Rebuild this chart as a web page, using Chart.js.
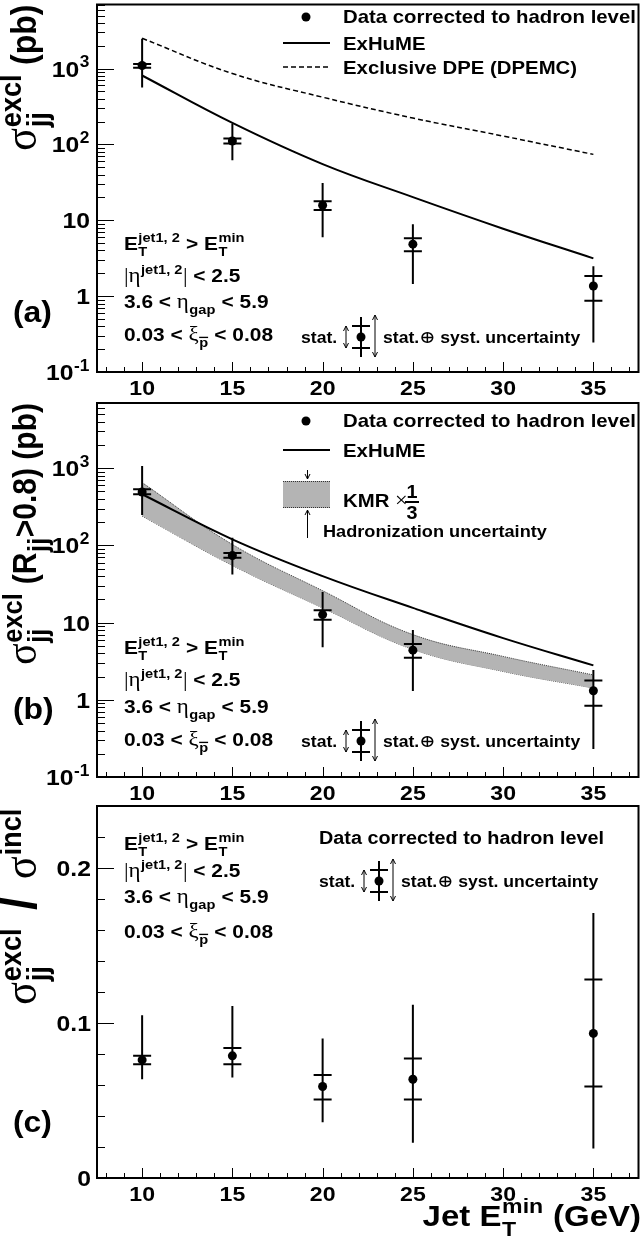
<!DOCTYPE html>
<html>
<head>
<meta charset="utf-8">
<script src="https://cdn.jsdelivr.net/npm/chart.js@4.4.0/dist/chart.umd.min.js"></script>
<style>
html, body { margin: 0; padding: 0; background: #fff; }
#wrap { position: relative; width: 643px; height: 1249px; }
canvas { position: absolute; left: 0; top: 0; }
</style>
</head>
<body>
<div id="wrap">
<canvas id="pa" width="643" height="1249"></canvas>
<canvas id="pb" width="643" height="1249"></canvas>
<canvas id="pc" width="643" height="1249"></canvas>
</div>
<script>
// jet E_T min thresholds (GeV)
const etMin = [10, 15, 20, 25, 35]
const curveEt = [10, 15, 20, 25, 30, 35]
const xTicks = [10, 15, 20, 25, 30, 35]

// (a) sigma_jj excl (pb)
const aXsec = [1100, 111, 15.8, 4.85, 1.36]
const aStatUp = [1150, 120, 17.8, 5.8, 1.84]
const aStatDn = [1030, 103, 13.7, 3.9, 0.87]
const aTotUp = [2480, 188, 31, 8.9, 2.48]
const aTotDn = [565, 62, 6, 1.45, 0.244]
const aExhume = [811, 192, 55, 20.2, 7.75, 3.15]
const aDpemc = [2510, 861, 420, 223, 129, 74]

// (b) sigma_jj excl (R_jj > 0.8) (pb)
const bXsec = [492, 74, 12.7, 4.4, 1.31]
const bStatUp = [533, 80, 14.5, 5.3, 1.78]
const bStatDn = [460, 69, 10.9, 3.5, 0.84]
const bTotUp = [1070, 126, 25, 8.0, 2.43]
const bTotDn = [248, 42, 4.8, 1.3, 0.23]
const bExhume = [460, 120, 40, 15.5, 6.3, 2.79]
const kmrHi = [652, 103, 25.9, 7.0, 3.65, 2.1]
const kmrLo = [240, 55, 15.5, 4.5, 2.33, 1.42]

// (c) sigma excl / sigma incl
const cRatio = [0.0762, 0.0788, 0.059, 0.0637, 0.0933]
const cStatUp = [0.0788, 0.0838, 0.0665, 0.0771, 0.128]
const cStatDn = [0.0734, 0.0734, 0.0507, 0.0507, 0.059]
const cTotUp = [0.105, 0.111, 0.090, 0.1117, 0.171]
const cTotDn = [0.0637, 0.0648, 0.036, 0.0227, 0.019]

// y tick labels
const logTicks = [0.1, 1, 10, 100, 1000]
const logTickText = [['10', '-1'], ['1', ''], ['10', ''], ['10', '2'], ['10', '3']]
const ratioTicks = [0, 0.1, 0.2]
const ratioTickText = ['0', '0.1', '0.2']

const FAM = '"Liberation Sans", Arial, sans-serif'
const GFAM = '"Liberation Serif", "DejaVu Serif", serif'
const SX = 1.1   // the reference text is a bit wider than Arial

const F = s => `bold ${s}px ${FAM}`
const G = s => `${s}px ${GFAM}`

function baseFont(p, s) {
    const z = p.z || 1
    return p.g ? G(s * 1.1 * z) : F(s * z)
}

function partW(ctx, p, s, k) {
    if (typeof p === 'string') { ctx.font = F(s); return ctx.measureText(p).width }
    let w = 0
    if (p.t) { ctx.font = baseFont(p, s); w = ctx.measureText(p.t).width }
    ctx.font = F(s * k)
    const ws = Math.max(p.sub ? ctx.measureText(p.sub).width : 0, p.sup ? ctx.measureText(p.sup).width : 0)
    return w + ws + (ws ? s * 0.04 : 0)
}

function drawPart(ctx, p, x, y, s, k) {
    if (typeof p === 'string') { ctx.font = F(s); ctx.fillText(p, x, y); return }
    let w = 0
    if (p.t) { ctx.font = baseFont(p, s); ctx.fillText(p.t, x, y); w = ctx.measureText(p.t).width }
    ctx.font = F(s * k)
    const sx = x + w + s * 0.02
    if (p.sup) ctx.fillText(p.sup, sx, y - s * 0.42)
    if (p.sub) {
        ctx.fillText(p.sub, sx, y + s * 0.33)
        if (p.bar) {
            const bw = ctx.measureText(p.sub).width
            ctx.fillRect(sx, y + s * 0.33 - s * k * 0.62 - s * 0.12, bw, Math.max(1, s * 0.07))
        }
    }
}

// rich text: parts are strings or {t, g, z, sub, sup, bar}
function rich(ctx, parts, x, y, s, align, rot, k) {
    k = k || 0.7
    ctx.save()
    ctx.translate(x, y)
    if (rot) { ctx.rotate(-Math.PI / 2); ctx.scale(1, SX) } else ctx.scale(SX, 1)
    ctx.fillStyle = '#000'
    ctx.textAlign = 'left'
    ctx.textBaseline = 'alphabetic'
    const ws = parts.map(p => partW(ctx, p, s, k))
    const w = ws.reduce((a, b) => a + b, 0)
    let cx = align === 'right' ? -w : align === 'center' ? -w / 2 : 0
    parts.forEach((p, i) => { drawPart(ctx, p, cx, 0, s, k); cx += ws[i] })
    ctx.restore()
}

function frameAndXAxis(chart) {
    const { ctx, chartArea: a, scales: { x } } = chart
    ctx.save()
    ctx.strokeStyle = '#000'
    ctx.lineWidth = 1
    ctx.beginPath()
    for (let v = 8; v <= 37; v++) {
        const px = Math.round(x.getPixelForValue(v)) + 0.5
        ctx.moveTo(px, a.bottom)
        ctx.lineTo(px, a.bottom - (v % 5 === 0 ? 10 : 5))
    }
    ctx.stroke()
    ctx.lineWidth = 2
    ctx.strokeRect(a.left, a.top, a.right - a.left, a.bottom - a.top)
    ctx.restore()
    xTicks.forEach(v => rich(ctx, [String(v)], x.getPixelForValue(v), a.bottom + 23, 21, 'center'))
}

function logYAxis(chart) {
    const { ctx, chartArea: a, scales: { y } } = chart
    ctx.save()
    ctx.strokeStyle = '#000'
    ctx.lineWidth = 1
    ctx.beginPath()
    for (let d = 0.1; d <= 1000; d *= 10) {
        for (let k = 1; k <= 9; k++) {
            const v = d * k
            if (v > y.max) continue
            const py = Math.round(y.getPixelForValue(v)) + 0.5
            ctx.moveTo(a.left, py)
            ctx.lineTo(a.left + (k === 1 ? 17 : 8), py)
        }
    }
    ctx.stroke()
    ctx.restore()
    logTicks.forEach((v, i) => {
        const t = logTickText[i]
        const parts = t[1] ? [t[0], { sup: t[1] }] : [t[0]]
        rich(ctx, parts, a.left - 7, y.getPixelForValue(v) + 8, 22.5, 'right')
    })
}

function ratioYAxis(chart) {
    const { ctx, chartArea: a, scales: { y } } = chart
    ctx.save()
    ctx.strokeStyle = '#000'
    ctx.lineWidth = 1
    ctx.beginPath()
    for (let k = 0; k <= 11; k++) {
        const v = k * 0.02
        const py = Math.round(y.getPixelForValue(v)) + 0.5
        ctx.moveTo(a.left, py)
        ctx.lineTo(a.left + (k % 5 === 0 ? 17 : 8), py)
    }
    ctx.stroke()
    ctx.restore()
    ratioTicks.forEach((v, i) => rich(ctx, [ratioTickText[i]], a.left - 6, y.getPixelForValue(v) + 8, 22.5, 'right'))
}

function errorBars(chart, sUp, sDn, tUp, tDn) {
    const { ctx, scales: { x, y } } = chart
    ctx.save()
    ctx.strokeStyle = '#000'
    ctx.lineWidth = 2
    ctx.beginPath()
    etMin.forEach((e, i) => {
        const px = x.getPixelForValue(e)
        ctx.moveTo(px, y.getPixelForValue(tDn[i]))
        ctx.lineTo(px, y.getPixelForValue(tUp[i]))
        for (const v of [sUp[i], sDn[i]]) {
            const py = y.getPixelForValue(v)
            ctx.moveTo(px - 9, py)
            ctx.lineTo(px + 9, py)
        }
    })
    ctx.stroke()
    ctx.restore()
}

const cutLines = [
    [{ t: 'E', sub: 'T', sup: 'jet1, 2' }, ' > ', { t: 'E', sub: 'T', sup: 'min' }],
    [{ t: '|', g: true }, { t: 'η', g: true, sup: 'jet1, 2' }, { t: '|', g: true }, ' < 2.5'],
    ['3.6 < ', { t: 'η', g: true, sub: 'gap' }, ' < 5.9'],
    ['0.03 < ', { t: 'ξ', g: true, sub: 'p', bar: true }, ' < 0.08']
]

function cuts(ctx, ys) {
    cutLines.forEach((l, i) => rich(ctx, l, 124, ys[i], 19))
}

function dblArrow(ctx, x, y1, y2) {
    ctx.beginPath()
    ctx.moveTo(x, y1); ctx.lineTo(x, y2)
    ctx.moveTo(x - 2.5, y1 + 5); ctx.lineTo(x, y1); ctx.lineTo(x + 2.5, y1 + 5)
    ctx.moveTo(x - 2.5, y2 - 5); ctx.lineTo(x, y2); ctx.lineTo(x + 2.5, y2 - 5)
    ctx.stroke()
}

function statKey(ctx, x0, yc, gap) {
    rich(ctx, ['stat.'], x0, yc + 6, 16)
    const xs = x0 + 60
    ctx.save()
    ctx.strokeStyle = '#000'
    ctx.fillStyle = '#000'
    ctx.lineWidth = 2
    ctx.beginPath()
    ctx.moveTo(xs, yc - 20); ctx.lineTo(xs, yc + 20)
    ctx.moveTo(xs - 9, yc - 11); ctx.lineTo(xs + 9, yc - 11)
    ctx.moveTo(xs - 9, yc + 11); ctx.lineTo(xs + 9, yc + 11)
    ctx.stroke()
    ctx.beginPath(); ctx.arc(xs, yc, 4.5, 0, 2 * Math.PI); ctx.fill()
    ctx.lineWidth = 1
    dblArrow(ctx, xs - 15, yc - 11, yc + 11)
    dblArrow(ctx, xs + 14, yc - 22, yc + 20)
    ctx.restore()
    rich(ctx, ['stat.', { t: '⊕', g: true }, ' syst. uncertainty'], xs + gap, yc + 6, 16)
}

function dataKey(ctx, y) {
    ctx.save()
    ctx.fillStyle = '#000'
    ctx.beginPath(); ctx.arc(306, y - 6, 4.5, 0, 2 * Math.PI); ctx.fill()
    ctx.restore()
    rich(ctx, ['Data corrected to hadron level'], 343, y, 18.5)
}

function lineKey(ctx, y, text, dash) {
    ctx.save()
    ctx.strokeStyle = '#000'
    ctx.lineWidth = dash ? 1.5 : 2
    ctx.setLineDash(dash || [])
    ctx.beginPath(); ctx.moveTo(283, y - 7); ctx.lineTo(330, y - 7); ctx.stroke()
    ctx.restore()
    rich(ctx, [text], 343, y, 18.5)
}

const sigmaJJ = { t: 'σ', g: true, z: 1.2, sub: 'jj', sup: 'excl' }
const TK = 0.85

function chartOpts(padTop, padBottom, yScale) {
    return {
        responsive: false,
        animation: false,
        devicePixelRatio: 1,
        events: [],
        layout: { padding: { left: 97, right: 2, top: padTop, bottom: padBottom } },
        plugins: { legend: { display: false }, tooltip: { enabled: false } },
        scales: {
            x: { type: 'linear', min: 7.5, max: 37.5, display: false },
            y: Object.assign({ display: false }, yScale)
        }
    }
}

const pts = vals => ({
    data: etMin.map((e, i) => ({ x: e, y: vals[i] })),
    showLine: false,
    pointRadius: 4.5,
    pointBorderWidth: 0,
    pointBackgroundColor: '#000'
})

const curve = (vals, extra) => Object.assign({
    data: curveEt.map((e, i) => ({ x: e, y: vals[i] })),
    borderColor: '#000',
    borderWidth: 2,
    pointRadius: 0,
    fill: false,
    tension: 0.4
}, extra)

// panel (a)
new Chart(document.getElementById('pa'), {
    type: 'line',
    data: {
        datasets: [
            pts(aXsec),
            curve(aExhume),
            curve(aDpemc, { borderWidth: 1.5, borderDash: [5, 3] })
        ]
    },
    options: chartOpts(1, 1249 - 372, { type: 'logarithmic', min: 0.1, max: 7000 }),
    plugins: [{
        id: 'panelA',
        afterDatasetsDraw(chart) { errorBars(chart, aStatUp, aStatDn, aTotUp, aTotDn) },
        afterDraw(chart) {
            const ctx = chart.ctx
            frameAndXAxis(chart)
            logYAxis(chart)
            rich(ctx, [sigmaJJ, ' (pb)'], 36, chart.chartArea.top, 32, 'right', true, TK)
            rich(ctx, ['(a)'], 13, 322, 29)
            dataKey(ctx, 23)
            lineKey(ctx, 50, 'ExHuME')
            lineKey(ctx, 74, 'Exclusive DPE (DPEMC)', [5, 3])
            cuts(ctx, [250, 282, 308, 341])
            statKey(ctx, 301, 337, 22)
        }
    }]
})

// panel (b)
new Chart(document.getElementById('pb'), {
    type: 'line',
    data: {
        datasets: [
            pts(bXsec),
            curve(bExhume),
            curve(kmrHi, { borderWidth: 1, borderColor: '#333', borderDash: [1, 1], fill: '+1', backgroundColor: '#b4b4b4' }),
            curve(kmrLo, { borderWidth: 1, borderColor: '#333', borderDash: [1, 1] })
        ]
    },
    options: chartOpts(403, 1249 - 777, { type: 'logarithmic', min: 0.1, max: 7000 }),
    plugins: [{
        id: 'panelB',
        afterDatasetsDraw(chart) { errorBars(chart, bStatUp, bStatDn, bTotUp, bTotDn) },
        afterDraw(chart) {
            const ctx = chart.ctx
            frameAndXAxis(chart)
            logYAxis(chart)
            rich(ctx, [sigmaJJ, ' (R', { sub: 'jj' }, '>0.8) (pb)'], 36, chart.chartArea.top, 30, 'right', true, TK)
            rich(ctx, ['(b)'], 13, 719, 29)
            dataKey(ctx, 427)
            lineKey(ctx, 457, 'ExHuME')
            // KMR band key
            ctx.save()
            ctx.fillStyle = '#b4b4b4'
            ctx.fillRect(283, 481, 47, 27)
            ctx.strokeStyle = '#333'
            ctx.lineWidth = 1
            ctx.setLineDash([1, 1])
            ctx.beginPath()
            ctx.moveTo(283, 481.5); ctx.lineTo(330, 481.5)
            ctx.moveTo(283, 507.5); ctx.lineTo(330, 507.5)
            ctx.stroke()
            ctx.setLineDash([])
            ctx.strokeStyle = '#000'
            ctx.beginPath()
            ctx.moveTo(307.5, 470); ctx.lineTo(307.5, 479)
            ctx.moveTo(305, 474); ctx.lineTo(307.5, 479); ctx.lineTo(310, 474)
            ctx.moveTo(307.5, 538); ctx.lineTo(307.5, 510)
            ctx.moveTo(305, 515); ctx.lineTo(307.5, 510); ctx.lineTo(310, 515)
            ctx.stroke()
            ctx.fillStyle = '#000'
            ctx.fillRect(405, 501, 14, 2)
            ctx.restore()
            rich(ctx, ['KMR ', { t: '×', g: true }], 343, 507, 18.5)
            rich(ctx, ['1'], 412, 498, 18, 'center')
            rich(ctx, ['3'], 412, 519, 18, 'center')
            rich(ctx, ['Hadronization uncertainty'], 323, 537, 16.5)
            cuts(ctx, [654, 686, 713, 746])
            statKey(ctx, 301, 741, 22)
        }
    }]
})

// panel (c)
new Chart(document.getElementById('pc'), {
    type: 'line',
    data: { datasets: [pts(cRatio)] },
    options: chartOpts(806, 1249 - 1178, { type: 'linear', min: 0, max: 0.24 }),
    plugins: [{
        id: 'panelC',
        afterDatasetsDraw(chart) { errorBars(chart, cStatUp, cStatDn, cTotUp, cTotDn) },
        afterDraw(chart) {
            const ctx = chart.ctx
            frameAndXAxis(chart)
            ratioYAxis(chart)
            rich(ctx, [sigmaJJ, '  ', { t: '/', z: 1.5 }, '  ', { t: 'σ', g: true, z: 1.2, sup: 'incl' }],
                36, chart.chartArea.top + 2, 32, 'right', true, TK)
            rich(ctx, ['(c)'], 13, 1132, 29)
            rich(ctx, ['Data corrected to hadron level'], 319, 844, 18)
            cuts(ctx, [850, 877, 903, 938])
            statKey(ctx, 319, 881, 22)
            rich(ctx, ['Jet ', { t: 'E', sub: 'T', sup: 'min' }, ' (GeV)'], 641, 1226, 30, 'right')
        }
    }]
})
</script>
</body>
</html>
